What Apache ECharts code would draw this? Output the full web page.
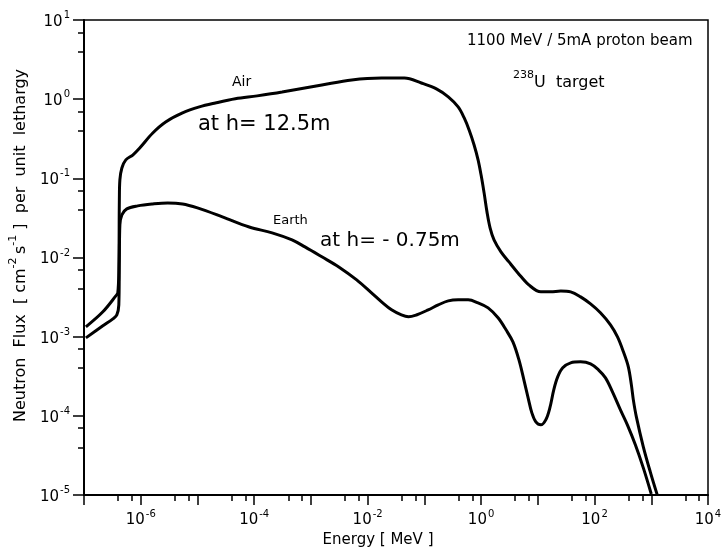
<!DOCTYPE html>
<html>
<head>
<meta charset="utf-8">
<script src="https://cdn.jsdelivr.net/npm/echarts@6/dist/echarts.min.js"></script>
<style>html,body{margin:0;padding:0;background:#fff}#c{width:725px;height:555px}</style>
</head>
<body>
<div id="c"></div>
<script>
// Energy [MeV] and flux values
const energyAir = [1.08e-7, 2.15e-7, 3.64e-7, 3.94e-7, 4.11e-7, 4.20e-7, 4.29e-7, 4.65e-7, 5.46e-7, 7.24e-7,
  9.6e-7, 1.63e-6, 2.75e-6, 5.46e-6, 1.08e-5, 2.07e-5, 4.65e-5, 1.13e-4, 3.10e-4, 1.56e-3,
  5.24e-3, 1.76e-2, 4.46e-2, 8.85e-2, 0.163, 0.264, 0.394, 0.504, 0.615, 0.753,
  0.885, 1.0, 1.13, 1.27, 1.44, 1.69, 2.24, 3.10, 4.46, 6.95,
  11.3, 16.9, 25.4, 37.9, 56.8, 85.1, 127, 191, 254, 323,
  394, 446, 483, 546, 724, 960, 1270];
const fluxAir = [1.33e-3, 2.06e-3, 3.27e-3, 3.57e-3, 6.97e-3, 5.33e-2, 9.55e-2, 0.135, 0.171, 0.197,
  0.242, 0.374, 0.515, 0.670, 0.798, 0.895, 1.01, 1.10, 1.23, 1.51,
  1.75, 1.85, 1.85, 1.60, 1.35, 1.07, 0.798, 0.579, 0.408, 0.264,
  0.171, 0.110, 6.55e-2, 3.77e-2, 2.37e-2, 1.67e-2, 1.18e-2, 8.79e-3, 6.39e-3, 4.51e-3,
  3.68e-3, 3.68e-3, 3.78e-3, 3.68e-3, 3.18e-3, 2.59e-3, 2.00e-3, 1.41e-3, 9.93e-4, 6.43e-4,
  4.16e-4, 2.46e-4, 1.59e-4, 9.7e-5, 4.06e-5, 1.96e-5, 1.01e-5];
const energyEarth = [1.08e-7, 2.15e-7, 3.23e-7, 3.79e-7, 4.11e-7, 4.20e-7, 4.29e-7, 4.65e-7, 5.68e-7, 8.85e-7,
  1.63e-6, 2.98e-6, 5.46e-6, 1e-5, 2.75e-5, 8.17e-5, 2.07e-4, 4.65e-4, 7.85e-4, 1.56e-3,
  3.10e-3, 6.41e-3, 1.17e-2, 1.76e-2, 2.64e-2, 3.94e-2, 5.24e-2, 7.24e-2, 0.117, 0.176,
  0.264, 0.394, 0.592, 0.885, 1.33, 1.99, 2.75, 3.64, 4.65, 5.68,
  6.68, 7.85, 9.23, 11.3, 13.8, 16.3, 19.1, 22.4, 27.5, 37.9,
  56.8, 85.1, 117, 156, 207, 286, 379, 524, 724, 1000];
const fluxEarth = [9.66e-4, 1.37e-3, 1.68e-3, 1.88e-3, 2.52e-3, 9.33e-3, 2.58e-2, 3.45e-2, 4.11e-2, 4.49e-2,
  4.75e-2, 4.89e-2, 4.75e-2, 4.23e-2, 3.26e-2, 2.43e-2, 2.05e-2, 1.67e-2, 1.36e-2, 1.02e-2,
  7.60e-3, 5.21e-3, 3.57e-3, 2.75e-3, 2.18e-3, 1.88e-3, 1.78e-3, 1.88e-3, 2.18e-3, 2.52e-3,
  2.83e-3, 2.92e-3, 2.92e-3, 2.67e-3, 2.31e-3, 1.73e-3, 1.22e-3, 8.59e-4, 5.09e-4, 2.85e-4,
  1.74e-4, 1.09e-4, 8.39e-5, 7.69e-5, 8.89e-5, 1.26e-4, 2.13e-4, 3.10e-4, 4.04e-4, 4.67e-4,
  4.81e-4, 4.54e-4, 3.81e-4, 3.02e-4, 2.01e-4, 1.19e-4, 7.69e-5, 4.31e-5, 2.20e-5, 1.03e-5];
const xLabelExponents = [-6, -4, -2, 0, 2, 4];
const yLabelExponents = [-5, -4, -3, -2, -1, 0, 1];

const FONT = '"DejaVu Sans"';
const zip = (a, b) => a.map((v, i) => [v, b[i]]);
const richLab = {
  b: { fontSize: 15, fontFamily: FONT, color: '#000', padding: [4, 0, 0, 0] },
  s: { fontSize: 10, fontFamily: FONT, color: '#000', verticalAlign: 'top', padding: [0, 0, 0, 1] }
};
function powLabel(v, list) {
  const e = Math.round(Math.log10(v));
  if (list.indexOf(e) < 0) return '';
  return '{b|10}{s|' + e + '}';
}

const chart = echarts.init(document.getElementById('c'), null, { renderer: 'canvas' });
const lineStyle = { color: '#000', width: 3 };
chart.setOption({
  animation: false,
  backgroundColor: '#fff',
  grid: { left: 82, right: 17, top: 20, bottom: 60, show: true, borderColor: '#000', borderWidth: 1.5 },
  xAxis: {
    type: 'log', logBase: 10, min: 1e-7, max: 1e4, interval: 1,
    name: 'Energy [ MeV ]', nameLocation: 'middle', nameGap: 37,
    nameTextStyle: { fontFamily: FONT, fontSize: 15, color: '#000', padding: [0, 36, 0, 0] },
    axisLine: { lineStyle: { color: '#000', width: 2 } },
    axisTick: { length: 10, lineStyle: { color: '#000', width: 1.5 } },
    minorTick: { show: true, splitNumber: 3, length: 6, lineStyle: { color: '#000', width: 1.5 } },
    splitLine: { show: false },
    axisLabel: { margin: 14, formatter: v => powLabel(v, xLabelExponents), rich: richLab, showMinLabel: false }
  },
  yAxis: {
    type: 'log', logBase: 10, min: 1e-5, max: 10, interval: 1,
    name: '{t|Neutron  Flux  [ cm}{s|-2} {t|s}{s|-1}{t| ]  per  unit  lethargy}', nameLocation: 'middle', nameGap: 55,
    nameTextStyle: { padding: [0, 0, 0, 24], rich: {
      t: { fontFamily: FONT, fontSize: 16, color: '#000', padding: [5, 0, 0, 0] },
      s: { fontFamily: FONT, fontSize: 11, color: '#000', verticalAlign: 'top' } } },
    axisLine: { lineStyle: { color: '#000', width: 2 } },
    axisTick: { length: 11, lineStyle: { color: '#000', width: 1.5 } },
    minorTick: { show: true, splitNumber: 3, length: 6, lineStyle: { color: '#000', width: 1.5 } },
    splitLine: { show: false },
    axisLabel: { margin: 14, formatter: v => powLabel(v, yLabelExponents), rich: richLab }
  },
  series: [
    { name: 'Air', type: 'line', data: zip(energyAir, fluxAir), showSymbol: false, smooth: 0.35,
      lineStyle: lineStyle },
    { name: 'Earth', type: 'line', data: zip(energyEarth, fluxEarth), showSymbol: false, smooth: 0.35,
      lineStyle: lineStyle }
  ],
  graphic: [
    { type: 'text', left: 467, top: 34, style: { text: '1100 MeV / 5mA proton beam', font: '15px ' + FONT, fill: '#000' } },
    { type: 'text', left: 513, top: 70, style: { text: '{s|238}{t|U  target}', rich: {
      s: { fontFamily: FONT, fontSize: 11, verticalAlign: 'top', fill: '#000' },
      t: { fontFamily: FONT, fontSize: 16, fill: '#000', padding: [5, 0, 0, 0] } } } },
    { type: 'text', left: 232, top: 75, style: { text: 'Air', font: '14px ' + FONT, fill: '#000' } },
    { type: 'text', left: 198, top: 114, style: { text: 'at h= 12.5m', font: '21px ' + FONT, fill: '#000' } },
    { type: 'text', left: 273, top: 214, style: { text: 'Earth', font: '13px ' + FONT, fill: '#000' } },
    { type: 'text', left: 320, top: 231, style: { text: 'at h= - 0.75m', font: '20px ' + FONT, fill: '#000' } }
  ]
});
</script>
</body>
</html>
